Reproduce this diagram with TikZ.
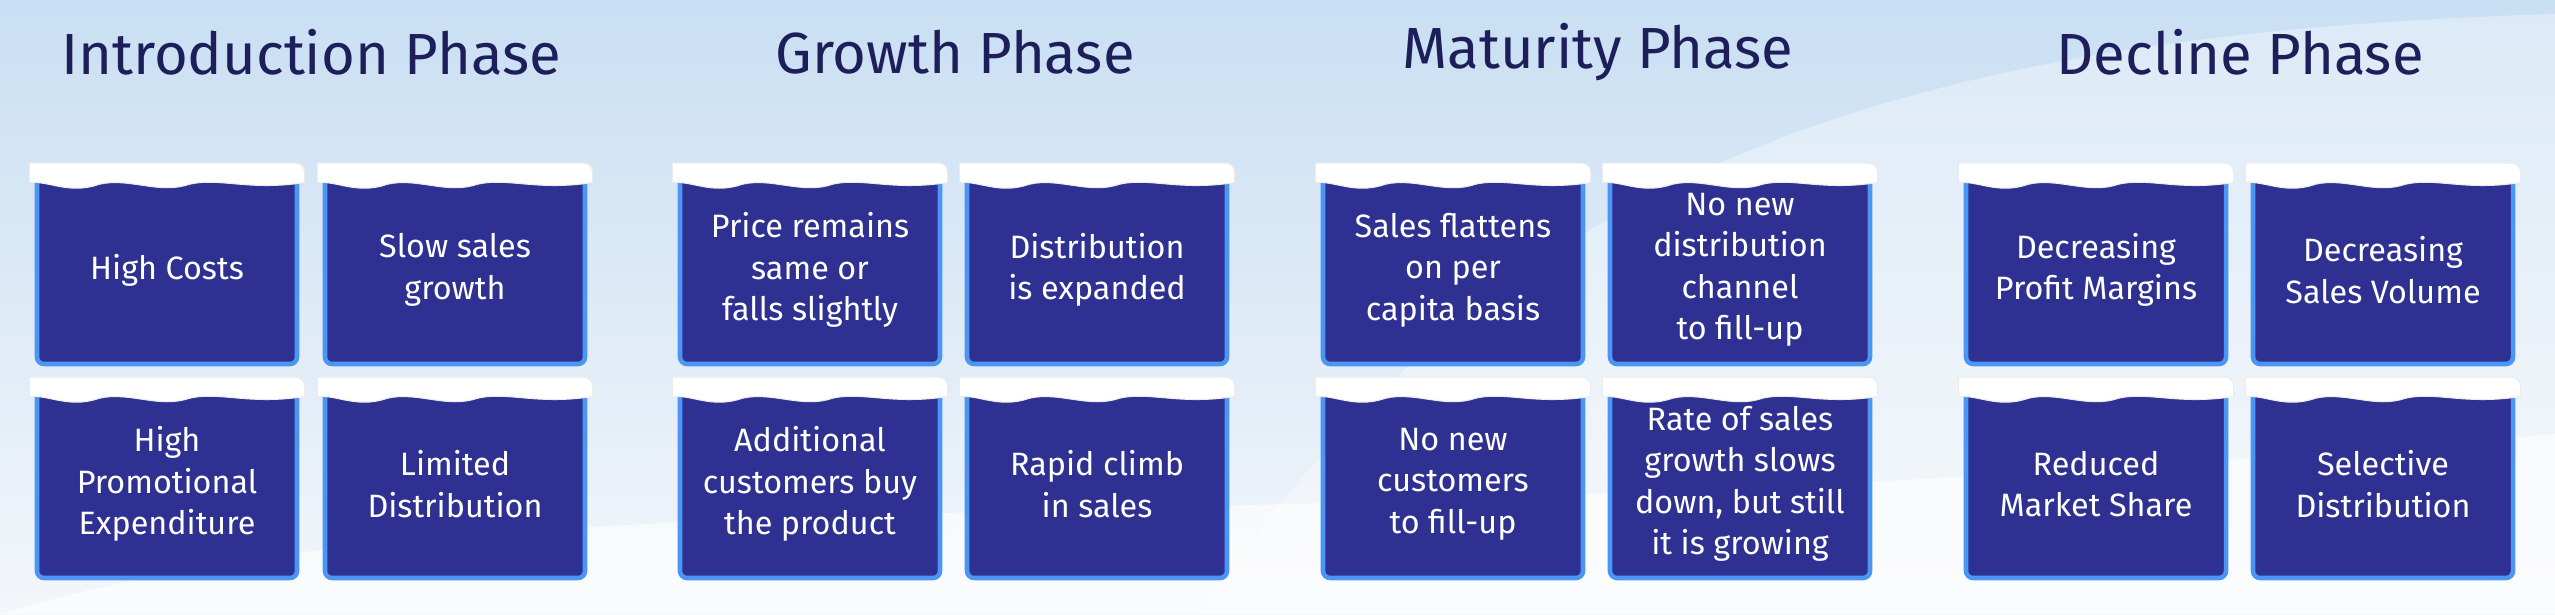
\documentclass[tikz,border=0pt]{standalone}
\usepackage{fontspec}
\setmainfont{Fira Sans}
\definecolor{boxblue}{HTML}{2E3192}
\definecolor{edgeblue}{HTML}{4B96F5}
\definecolor{titlecol}{HTML}{1E1E5A}
\definecolor{skytop}{HTML}{C9DFF3}
\definecolor{snowbot}{HTML}{F3F6FA}
\tikzset{
  card/.style={rectangle, rounded corners=2pt, fill=boxblue, draw=edgeblue, line width=1.3pt,
    minimum width=2.6cm, minimum height=1.88cm, text=white, align=center, font=\fontsize{9.2}{11.8}\selectfont, inner sep=2pt},
  title/.style={text=titlecol, font=\fontsize{16.5}{18}\selectfont},
  snow/.style={fill=white, draw=white!85!gray, line width=0.3pt}
}
\newcommand\snowcard[4]{% name, center x, center y, text
  \node[card] (#1) at (#2,#3) {#4};
  \path[snow] ([xshift=-1.5pt,yshift=3pt]#1.north west) [rounded corners=2.5pt] -- ([xshift=1.5pt,yshift=3pt]#1.north east) [sharp corners]
     -- ([xshift=1.5pt,yshift=-2.5pt]#1.north east)
     .. controls ([xshift=-0.5cm,yshift=-5pt]#1.north east) and ([xshift=-0.8cm,yshift=-1pt]#1.north east) .. ([xshift=-1.1cm,yshift=-3pt]#1.north east)
     .. controls ([xshift=-1.4cm,yshift=-6pt]#1.north east) and ([xshift=-1.7cm,yshift=-1pt]#1.north east) .. ([xshift=-2.0cm,yshift=-3pt]#1.north east)
     .. controls ([xshift=-2.3cm,yshift=-6pt]#1.north east) and ([xshift=-2.5cm,yshift=-2pt]#1.north east) .. ([xshift=-1.5pt,yshift=-2.5pt]#1.north west)
     -- cycle;
}
\begin{document}
\begin{tikzpicture}
\shade[top color=skytop, bottom color=snowbot] (0,0) rectangle (25.55,6.14);
\useasboundingbox (0,0) rectangle (25.55,6.14);
\fill[white, opacity=0.6] (0,0) .. controls (5,1.5) and (12,0.6) .. (25.55,1.8) -- (25.55,0) -- cycle;
\fill[white, opacity=0.35] (12,0) .. controls (15,4.5) and (19,5.8) .. (25.55,6.0) -- (25.55,0) -- cycle;

\node[title] (t1) at (3.11,5.62) {Introduction Phase};
\node[title] (t2) at (9.55,5.62) {Growth Phase};
\node[title] (t3) at (15.98,5.62) {Maturity Phase};
\node[title] (t4) at (22.40,5.62) {Decline Phase};

\def\ya{3.44}\def\yb{1.30}
\snowcard{a1}{1.67}{\ya}{High Costs}
\snowcard{a2}{4.55}{\ya}{Slow sales\\growth}
\snowcard{a3}{1.67}{\yb}{High\\Promotional\\Expenditure}
\snowcard{a4}{4.55}{\yb}{Limited\\Distribution}

\snowcard{b1}{8.10}{\ya}{Price remains\\same or\\falls slightly}
\snowcard{b2}{10.97}{\ya}{Distribution\\is expanded}
\snowcard{b3}{8.10}{\yb}{Additional\\customers buy\\the product}
\snowcard{b4}{10.97}{\yb}{Rapid climb\\in sales}

\snowcard{c1}{14.53}{\ya}{Sales flattens\\on per\\capita basis}
\snowcard{c2}{17.40}{\ya}{No new\\distribution\\channel\\to fill-up}
\snowcard{c3}{14.53}{\yb}{No new\\customers\\to fill-up}
\snowcard{c4}{17.40}{\yb}{Rate of sales\\growth slows\\down, but still\\it is growing}

\snowcard{d1}{20.96}{\ya}{Decreasing\\Profit Margins}
\snowcard{d2}{23.83}{\ya}{Decreasing\\Sales Volume}
\snowcard{d3}{20.96}{\yb}{Reduced\\Market Share}
\snowcard{d4}{23.83}{\yb}{Selective\\Distribution}
\end{tikzpicture}
\end{document}
